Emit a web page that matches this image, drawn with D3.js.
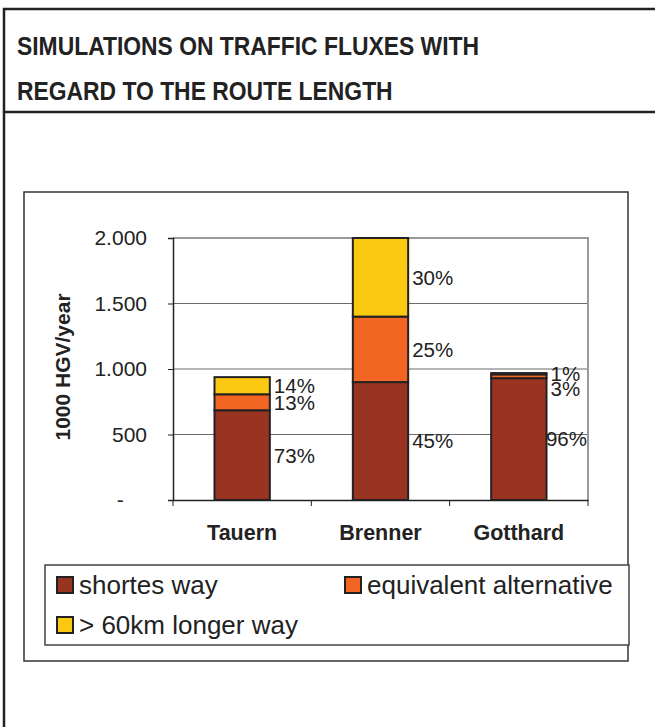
<!DOCTYPE html>
<html>
<head>
<meta charset="utf-8">
<script src="https://cdn.jsdelivr.net/npm/d3@7"></script>
<style>
  body { margin: 0; background: #fff; }
  svg { display: block; font-family: "Liberation Sans", Arial, sans-serif; }
</style>
</head>
<body>
<div class="chart"></div>
<script>
var svgWidth = 655;
var svgHeight = 727;

// data (1000 HGV/year)
var passes = ["Tauern", "Brenner", "Gotthard"];
var shortestWay = [685, 900, 930];
var equivalentAlt = [122, 500, 29];
var longerWay = [131, 600, 10];
var shortestPct = ["73%", "45%", "96%"];
var equivalentPct = ["13%", "25%", "3%"];
var longerPct = ["14%", "30%", "1%"];
var yTicks = [0, 500, 1000, 1500, 2000];
var seriesNames = ["shortes way", "equivalent alternative", "> 60km longer way"];
var seriesColors = ["#993322", "#f26522", "#fcc912"];

var margin = { top: 238, left: 173 };
var width = 415;
var height = 262;

var svg = d3.select(".chart")
  .append("svg")
  .attr("width", svgWidth)
  .attr("height", svgHeight);

// outer page frame + title
svg.append("path")
  .attr("d", "M4,727V9H655")
  .attr("fill", "none")
  .attr("stroke", "#222")
  .attr("stroke-width", 2.5);
svg.append("line")
  .attr("x1", 4).attr("x2", 655)
  .attr("y1", 112).attr("y2", 112)
  .attr("stroke", "#222")
  .attr("stroke-width", 2.5);

var titleLines = ["SIMULATIONS ON TRAFFIC FLUXES WITH", "REGARD TO THE ROUTE LENGTH"];
svg.append("g")
  .attr("transform", "translate(17,0) scale(0.915,1)")
  .selectAll("text")
  .data(titleLines)
  .enter()
  .append("text")
    .attr("y", function(d, i) { return 55 + i * 45; })
    .attr("font-size", 25)
    .attr("font-weight", "bold")
    .attr("fill", "#222")
    .text(function(d) { return d; });

// chart frame
svg.append("rect")
  .attr("x", 24).attr("y", 192)
  .attr("width", 604).attr("height", 469)
  .attr("fill", "#fff")
  .attr("stroke", "#333")
  .attr("stroke-width", 1.5);

var chart = svg.append("g")
  .attr("transform", "translate(" + margin.left + "," + margin.top + ")");

var xBand = d3.scaleBand().domain(passes).range([0, width]).padding(0);
var yLinearScale = d3.scaleLinear().domain([0, 2000]).range([height, 0]);
var barW = xBand.bandwidth() * 0.4;

var de = d3.formatLocale({ decimal: ",", thousands: ".", grouping: [3], currency: ["", "€"] });
var fmt = de.format(",.0f");

// gridlines
chart.selectAll(".grid")
  .data(yTicks.filter(function(d) { return d > 0 && d < 2000; }))
  .enter()
  .append("line")
    .attr("x1", 0).attr("x2", width)
    .attr("y1", function(d) { return yLinearScale(d); })
    .attr("y2", function(d) { return yLinearScale(d); })
    .attr("stroke", "#6b6b6b")
    .attr("stroke-width", 1);

// plot border top/right (grey)
chart.append("path")
  .attr("d", "M0," + yLinearScale(2000) + "H" + width + "V" + height)
  .attr("fill", "none")
  .attr("stroke", "#9a9a9a")
  .attr("stroke-width", 2);

// stack
var rows = passes.map(function(p, i) {
  return { pass: p, s: shortestWay[i], e: equivalentAlt[i], l: longerWay[i] };
});
var stack = d3.stack().keys(["s", "e", "l"])(rows);
var pctArrays = [shortestPct, equivalentPct, longerPct];

// data labels (drawn first so bars sit over them, as in the original)
var labelG = chart.append("g")
  .attr("font-size", 20.5)
  .attr("fill", "#222");

passes.forEach(function(p, i) {
  var items = stack.map(function(layer, k) {
    var seg = layer[i];
    return { k: k, y: (yLinearScale(seg[0]) + yLinearScale(seg[1])) / 2 };
  });
  // top-down: push overlapping labels down
  items.sort(function(a, b) { return a.y - b.y; });
  for (var j = 1; j < items.length; j++) {
    if (items[j].y < items[j - 1].y + 15) items[j].y = items[j - 1].y + 15;
  }
  items.forEach(function(it) {
    var t = labelG.append("text")
      .attr("y", it.y)
      .attr("dy", "0.36em")
      .text(pctArrays[it.k][i]);
    var w = t.node().getComputedTextLength();
    var x = xBand(p) + xBand.bandwidth() / 2 + barW / 2 + 4;
    if (x + w > width) x = width - w - 1;
    t.attr("x", x);
  });
});

// bars
chart.selectAll(".layer")
  .data(stack)
  .enter()
  .append("g")
    .attr("fill", function(d, k) { return seriesColors[k]; })
  .selectAll("rect")
  .data(function(d) { return d; })
  .enter()
  .append("rect")
    .attr("x", function(d) { return xBand(d.data.pass) + xBand.bandwidth() / 2 - barW / 2; })
    .attr("y", function(d) { return yLinearScale(d[1]); })
    .attr("width", barW)
    .attr("height", function(d) { return yLinearScale(d[0]) - yLinearScale(d[1]); })
    .attr("stroke", "#222")
    .attr("stroke-width", 2);

// axes
var leftAxis = d3.axisLeft(yLinearScale)
  .tickValues(yTicks)
  .tickSize(5)
  .tickPadding(21)
  .tickFormat(function(d) { return d === 0 ? "-\u00a0\u00a0\u00a0\u00a0" : fmt(d); });

var yAxisG = chart.append("g").call(leftAxis);
yAxisG.selectAll("text").attr("font-size", 21).attr("font-family", "Liberation Sans, Arial, sans-serif").attr("fill", "#222");
yAxisG.select(".domain").attr("stroke", "#222").attr("stroke-width", 1.5);
yAxisG.selectAll(".tick line").attr("stroke", "#222");

var bottomAxis = d3.axisBottom(xBand).tickSize(0).tickPadding(0).tickFormat("");
var xAxisG = chart.append("g")
  .attr("transform", "translate(0," + height + ")")
  .call(bottomAxis);
xAxisG.select(".domain").attr("stroke", "#222").attr("stroke-width", 1.5);

// category separators (ticks between bands)
var bounds = passes.map(function(p) { return xBand(p); }).concat([width]);
xAxisG.selectAll(".sep")
  .data(bounds)
  .enter()
  .append("line")
    .attr("x1", function(d) { return d; })
    .attr("x2", function(d) { return d; })
    .attr("y1", 0).attr("y2", 6)
    .attr("stroke", "#222");

// category labels
chart.selectAll(".cat")
  .data(passes)
  .enter()
  .append("text")
    .attr("x", function(d) { return xBand(d) + xBand.bandwidth() / 2; })
    .attr("y", height + 40)
    .attr("text-anchor", "middle")
    .attr("font-size", 21.5)
    .attr("font-weight", "bold")
    .attr("fill", "#222")
    .text(function(d) { return d; });

// y axis title
svg.append("text")
  .attr("transform", "translate(70,367) rotate(-90)")
  .attr("text-anchor", "middle")
  .attr("font-size", 21)
  .attr("font-weight", "bold")
  .attr("fill", "#222")
  .text("1000 HGV/year");

// legend
var legend = svg.append("g").attr("font-size", 26).attr("fill", "#222");
legend.append("rect")
  .attr("x", 45).attr("y", 565)
  .attr("width", 584).attr("height", 80)
  .attr("fill", "#fff")
  .attr("stroke", "#444")
  .attr("stroke-width", 1.5);

var legendPos = [[57, 577], [345, 577], [57, 617]];
seriesNames.forEach(function(name, k) {
  var g = legend.append("g")
    .attr("transform", "translate(" + legendPos[k][0] + "," + legendPos[k][1] + ")");
  g.append("rect")
    .attr("width", 16).attr("height", 16)
    .attr("fill", seriesColors[k])
    .attr("stroke", "#222")
    .attr("stroke-width", 2);
  g.append("text")
    .attr("x", 22)
    .attr("y", 17)
    .text(name);
});
</script>
</body>
</html>
